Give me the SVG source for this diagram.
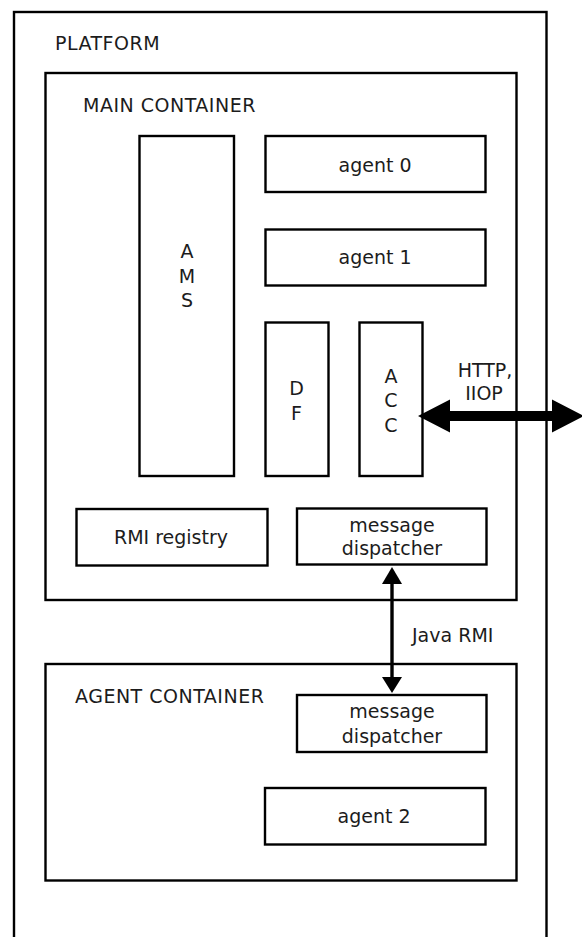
<svg xmlns="http://www.w3.org/2000/svg" width="582" height="937" viewBox="0 0 582 937">
  <style>
    .box { fill: #ffffff; stroke: #000000; stroke-width: 2.4; }
    .frame { fill: none; stroke: #000000; stroke-width: 2.4; }
    text { font-family: "DejaVu Sans", "Liberation Sans", sans-serif; font-size: 19px; fill: #1c1c1c; }
    .title { letter-spacing: 0.5px; }
    .mid { text-anchor: middle; }
    .conn { fill: #000000; stroke: none; }
    .wire { stroke: #000000; stroke-width: 3.4; fill: none; }
  </style>
  <rect width="582" height="937" fill="#ffffff"/>

  <!-- platform frame (runs off the bottom edge) -->
  <g id="platform">
    <rect class="frame" x="14" y="12" width="532.5" height="960"/>
    <text class="title" x="55" y="50">PLATFORM</text>
  </g>

  <!-- main container and its components -->
  <g id="main-container">
    <rect class="box" x="45.5" y="73" width="471" height="527"/>
    <text class="title" x="83" y="112">MAIN CONTAINER</text>
  </g>
  <g id="ams">
    <rect class="box" x="139.5" y="136" width="94.5" height="340"/>
    <text class="mid" x="187" y="258">A</text>
    <text class="mid" x="187" y="283">M</text>
    <text class="mid" x="187" y="307">S</text>
  </g>
  <g id="agent0">
    <rect class="box" x="265.5" y="136" width="220" height="56"/>
    <text class="mid" x="375" y="172">agent 0</text>
  </g>
  <g id="agent1">
    <rect class="box" x="265.5" y="229.5" width="220" height="56"/>
    <text class="mid" x="375" y="264">agent 1</text>
  </g>
  <g id="df">
    <rect class="box" x="265.5" y="322.5" width="63" height="153.5"/>
    <text class="mid" x="296.5" y="395">D</text>
    <text class="mid" x="296.5" y="420">F</text>
  </g>
  <g id="acc">
    <rect class="box" x="359.5" y="322.5" width="63" height="153.5"/>
    <text class="mid" x="391" y="383">A</text>
    <text class="mid" x="391" y="407">C</text>
    <text class="mid" x="391" y="432">C</text>
  </g>
  <g id="rmi-registry">
    <rect class="box" x="76.5" y="509" width="191" height="56.5"/>
    <text class="mid" x="171" y="544">RMI registry</text>
  </g>
  <g id="main-dispatcher">
    <rect class="box" x="297" y="508.5" width="189.5" height="56"/>
    <text class="mid" x="392" y="532">message</text>
    <text class="mid" x="392" y="555">dispatcher</text>
  </g>

  <!-- agent container and its components -->
  <g id="agent-container">
    <rect class="box" x="45.5" y="664" width="471" height="216.5"/>
    <text class="title" x="75" y="703">AGENT CONTAINER</text>
  </g>
  <g id="agent-dispatcher">
    <rect class="box" x="297" y="695" width="189.5" height="57"/>
    <text class="mid" x="392" y="718">message</text>
    <text class="mid" x="392" y="743">dispatcher</text>
  </g>
  <g id="agent2">
    <rect class="box" x="265" y="788" width="220.5" height="56.5"/>
    <text class="mid" x="374" y="823">agent 2</text>
  </g>

  <!-- connectors -->
  <g id="connectors">
    <!-- external HTTP / IIOP link from the ACC -->
    <polygon class="conn" points="418,416 450,399.5 450,411 552,411 552,399.5 584,416 552,432.5 552,421 450,421 450,432.5"/>
    <text class="mid" x="485" y="377">HTTP,</text>
    <text class="mid" x="484" y="400">IIOP</text>
    <!-- Java RMI link between the two dispatchers -->
    <line class="wire" x1="392" y1="582" x2="392" y2="679"/>
    <polygon class="conn" points="392,567 382,584 402,584"/>
    <polygon class="conn" points="392,693 382,677 402,677"/>
    <text x="412" y="642">Java RMI</text>
  </g>
</svg>
